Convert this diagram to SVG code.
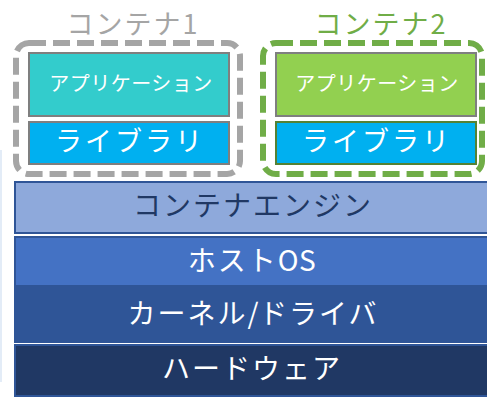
<svg xmlns="http://www.w3.org/2000/svg" width="487" height="398" viewBox="0 0 487 398">
  <style>
    text { font-family: "Noto Sans CJK JP", "Noto Sans", sans-serif; text-anchor: middle; }
    .title { font-size: 27px; letter-spacing: 2px; }
    .app { font-size: 20px; fill: #ffffff; letter-spacing: 0.5px; }
    .lib { font-size: 27px; fill: #ffffff; letter-spacing: 3px; }
    .layer { font-size: 28px; fill: #ffffff; letter-spacing: 2px; }
    .tight { letter-spacing: 0.5px; }
    .container { fill: none; stroke-width: 6; stroke-dasharray: 17 7; }
  </style>
  <rect width="487" height="398" fill="#ffffff"/>
  <!-- faint edge at the left -->
  <rect x="0" y="150" width="2" height="232" fill="#E3ECF7"/>

  <!-- container 1 -->
  <g id="container1">
    <rect class="container" x="16" y="43" width="224" height="131" rx="13" stroke="#A5A5A5"/>
    <text class="title" x="133" y="34" fill="#A5A5A5">コンテナ1</text>
    <g id="app1">
      <rect x="29" y="53" width="200" height="63" fill="#33CCCC" stroke="#7F7F7F" stroke-width="2"/>
      <text class="app" x="131" y="91">アプリケーション</text>
    </g>
    <g id="lib1">
      <rect x="29" y="122" width="200" height="42" fill="#00B0F0" stroke="#7F7F7F" stroke-width="2"/>
      <text class="lib" x="130" y="151">ライブラリ</text>
    </g>
  </g>

  <!-- container 2 -->
  <g id="container2">
    <rect class="container" x="263" y="43" width="219" height="131" rx="13" stroke="#70AD47"/>
    <text class="title" x="381" y="34" fill="#70AD47">コンテナ2</text>
    <g id="app2">
      <rect x="276" y="53" width="200" height="63" fill="#92D050" stroke="#7F7F7F" stroke-width="2"/>
      <text class="app" x="377" y="91">アプリケーション</text>
    </g>
    <g id="lib2">
      <rect x="276" y="122" width="200" height="42" fill="#00B0F0" stroke="#548235" stroke-width="2"/>
      <text class="lib" x="377" y="151">ライブラリ</text>
    </g>
  </g>

  <!-- platform layers -->
  <g id="engine">
    <rect x="15" y="182" width="480" height="51" fill="#8EA9DB" stroke="#2F5597" stroke-width="2"/>
    <text class="layer" x="253" y="216" style="fill:#203864">コンテナエンジン</text>
  </g>
  <g id="hostos">
    <rect x="15" y="237" width="480" height="49" fill="#4472C4" stroke="#2F5597" stroke-width="2"/>
    <text class="layer" x="252" y="271">ホスト<tspan class="tight">OS</tspan></text>
  </g>
  <g id="kernel">
    <rect x="14" y="287" width="480" height="56" fill="#2F5597"/>
    <text class="layer" x="253" y="324">カーネル<tspan class="tight">/</tspan>ドライバ</text>
  </g>
  <g id="hardware">
    <rect x="15" y="345" width="480" height="51" fill="#203864" stroke="#2F5597" stroke-width="2"/>
    <text class="layer" x="252" y="379">ハードウェア</text>
  </g>
</svg>
